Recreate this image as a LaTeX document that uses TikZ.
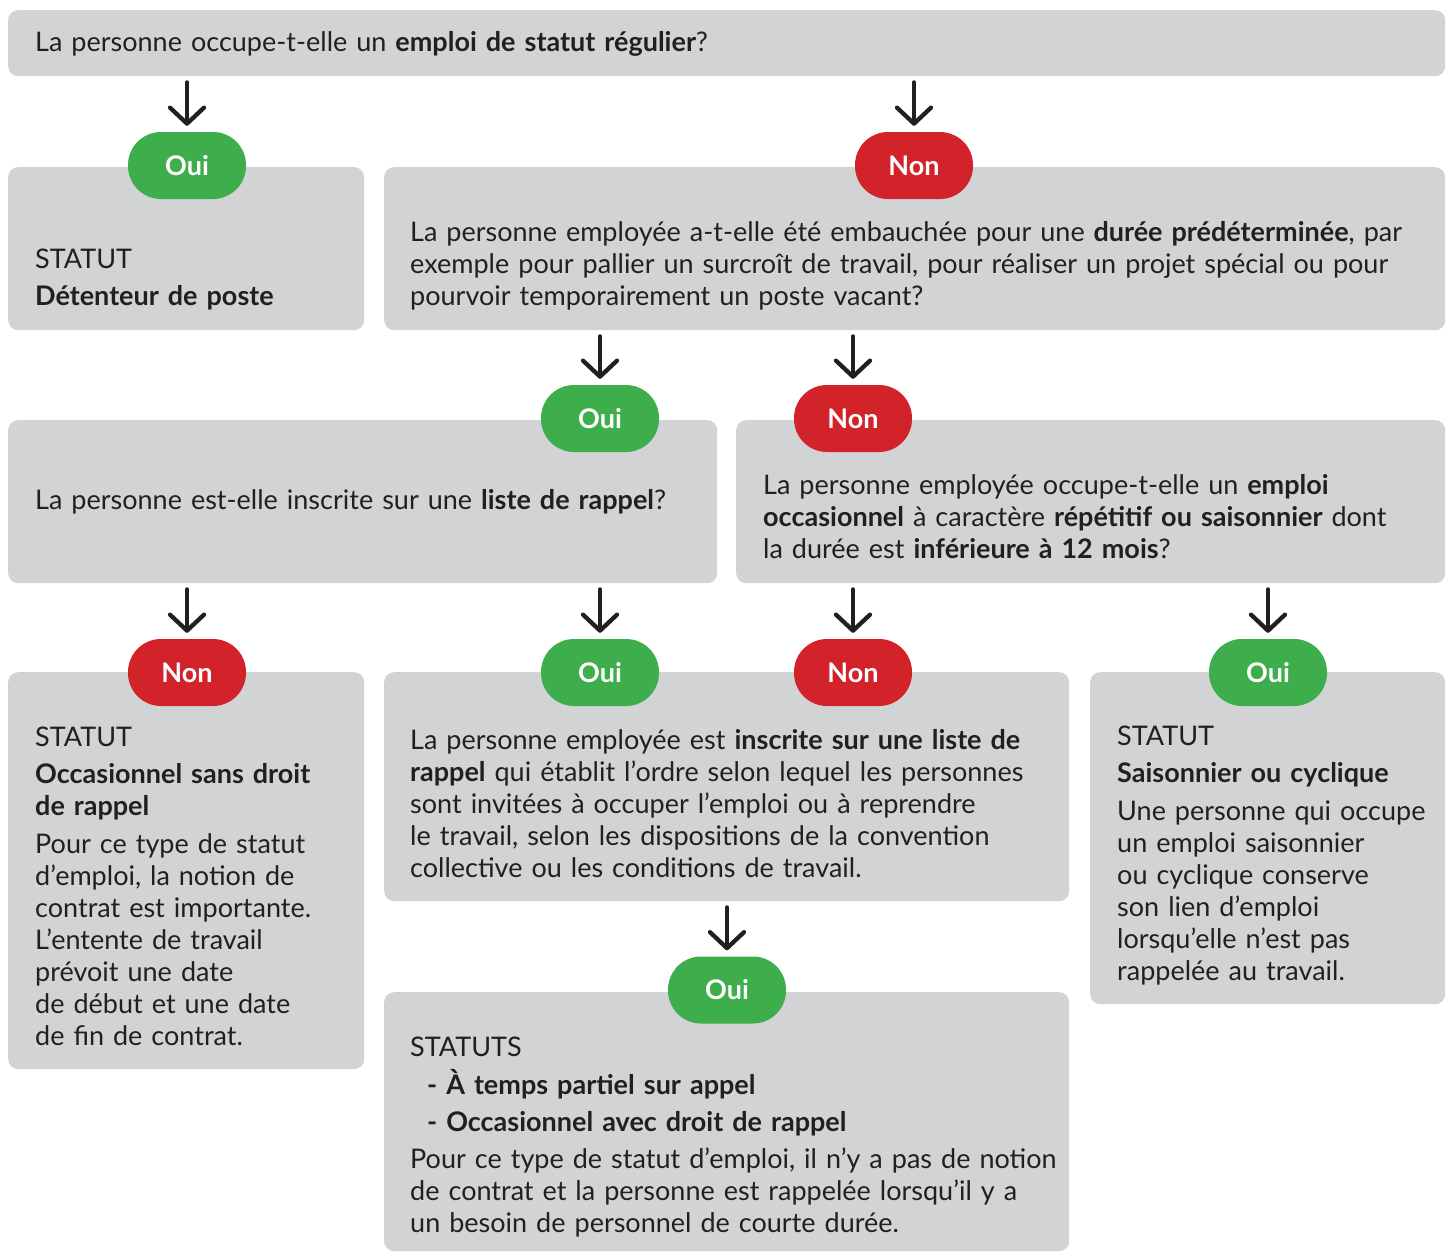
\documentclass[tikz,border=0pt]{standalone}
\usepackage{fontspec}
\setmainfont{Lato}
\usetikzlibrary{arrows.meta,calc}
\definecolor{boxgray}{HTML}{D1D3D4}
\definecolor{ouigreen}{HTML}{3DAE4B}
\definecolor{nonred}{HTML}{D2232A}
\definecolor{ink}{HTML}{231F20}
\begin{document}
\begin{tikzpicture}[x=1pt,y=-1pt,
  panel/.style={fill=boxgray, rounded corners=10pt, inner sep=0pt, anchor=north west},
  pill/.style={rounded corners=33pt, minimum width=118pt, minimum height=67pt, inner sep=0pt,
    text=white, font=\fontsize{27}{32}\selectfont\bfseries},
  oui/.style={pill, fill=ouigreen},
  non/.style={pill, fill=nonred},
  txt/.style={anchor=base west, text width=#1, align=left, inner sep=0pt,
    font=\fontsize{27}{32}\selectfont, text=ink},
  arr/.style={draw=ink, line width=4.3pt, line cap=round, -{Straight Barb[length=16pt,width=34pt,round]}}
]
\fill[white] (0,0) rectangle (1448,1253);
\useasboundingbox (0,0) rectangle (1448,1253);

% panels
\node[panel, minimum width=1437pt, minimum height=66pt] (q1) at (8,10) {};
\node[panel, minimum width=356pt, minimum height=163pt] (d1) at (8,167) {};
\node[panel, minimum width=1061pt, minimum height=163pt] (q2) at (384,167) {};
\node[panel, minimum width=709pt, minimum height=163pt] (q3) at (8,420) {};
\node[panel, minimum width=709pt, minimum height=163pt] (q4) at (736,420) {};
\node[panel, minimum width=356pt, minimum height=397pt] (d2) at (8,672) {};
\node[panel, minimum width=685pt, minimum height=229pt] (q5) at (384,672) {};
\node[panel, minimum width=685pt, minimum height=259pt] (d3) at (384,992) {};
\node[panel, minimum width=355pt, minimum height=332pt] (d4) at (1090,672) {};

% pills
\node[oui] (oui1) at (187,165.5) {Oui};
\node[non] (non1) at (914,165.5) {Non};
\node[oui] (oui2) at (600,418.5) {Oui};
\node[non] (non2) at (853,418.5) {Non};
\node[non] (non3) at (187,672.5) {Non};
\node[oui] (oui3) at (600,672.5) {Oui};
\node[non] (non4) at (853,672.5) {Non};
\node[oui] (oui4) at (1268,672.5) {Oui};
\node[oui] (oui5) at (727,990) {Oui};

% texts
\node[txt=1400pt] (t1) at (35,51) {La personne occupe-t-elle un \textbf{emploi de statut régulier}?};
\node[txt=325pt] (t2) at (35,268) {STATUT\\[5pt]\textbf{Détenteur de poste}};
\node[txt=1040pt] (t3) at (410,241) {La personne employée a-t-elle été embauchée pour une \textbf{durée prédéterminée}, par\\exemple pour pallier un surcroît de travail, pour réaliser un projet spécial ou pour\\pourvoir temporairement un poste vacant?};
\node[txt=680pt] (t4) at (35,509) {La personne est-elle inscrite sur une \textbf{liste de rappel}?};
\node[txt=680pt] (t5) at (763,494) {La personne employée occupe-t-elle un \textbf{emploi}\\\textbf{occasionnel} à caractère \textbf{répétitif ou saisonnier} dont\\la durée est \textbf{inférieure à 12 mois}?};
\node[txt=325pt] (t6) at (35,746) {STATUT\\[5pt]\textbf{Occasionnel sans droit}\\\textbf{de rappel}\\[6pt]Pour ce type de statut\\d’emploi, la notion de\\contrat est importante.\\L’entente de travail\\prévoit une date\\de début et une date\\de fin de contrat.};
\node[txt=660pt] (t7) at (410,749) {La personne employée est \textbf{inscrite sur une liste de}\\\textbf{rappel} qui établit l’ordre selon lequel les personnes\\sont invitées à occuper l’emploi ou à reprendre\\le travail, selon les dispositions de la convention\\collective ou les conditions de travail.};
\node[txt=660pt] (t8) at (410,1056) {STATUTS\\[6pt]\hspace*{17pt}\textbf{- À temps partiel sur appel}\\[5pt]\hspace*{17pt}\textbf{- Occasionnel avec droit de rappel}\\[5pt]Pour ce type de statut d’emploi, il n’y a pas de notion\\de contrat et la personne est rappelée lorsqu’il y a\\un besoin de personnel de courte durée.};
\node[txt=325pt] (t9) at (1117,745) {STATUT\\[5pt]\textbf{Saisonnier ou cyclique}\\[6pt]Une personne qui occupe\\un emploi saisonnier\\ou cyclique conserve\\son lien d’emploi\\lorsqu’elle n’est pas\\rappelée au travail.};

% arrows
\draw[arr] ($(q1.south -| oui1.north)+(0,6)$) -- ($(oui1.north)+(0,-6)$);
\draw[arr] ($(q1.south -| non1.north)+(0,6)$) -- ($(non1.north)+(0,-6)$);
\draw[arr] ($(q2.south -| oui2.north)+(0,6)$) -- ($(oui2.north)+(0,-6)$);
\draw[arr] ($(q2.south -| non2.north)+(0,6)$) -- ($(non2.north)+(0,-6)$);
\draw[arr] ($(q3.south -| non3.north)+(0,6)$) -- ($(non3.north)+(0,-6)$);
\draw[arr] ($(q3.south -| oui3.north)+(0,6)$) -- ($(oui3.north)+(0,-6)$);
\draw[arr] ($(q4.south -| non4.north)+(0,6)$) -- ($(non4.north)+(0,-6)$);
\draw[arr] ($(q4.south -| oui4.north)+(0,6)$) -- ($(oui4.north)+(0,-6)$);
\draw[arr] ($(q5.south -| oui5.north)+(0,6)$) -- ($(oui5.north)+(0,-6)$);
\end{tikzpicture}
\end{document}
